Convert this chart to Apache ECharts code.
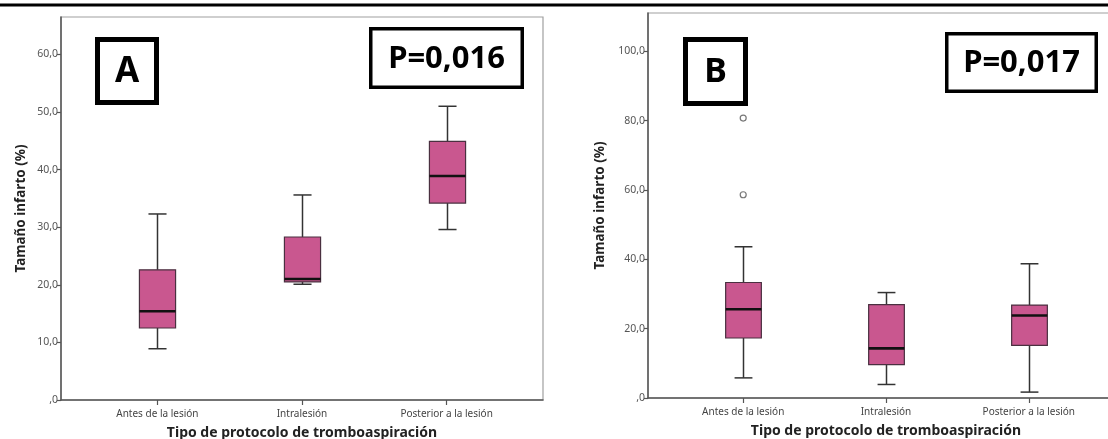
<!DOCTYPE html>
<html>
<head>
<meta charset="utf-8">
<script src="https://cdn.jsdelivr.net/npm/echarts@6/dist/echarts.min.js"></script>
<style>
  html, body { margin: 0; padding: 0; background: #fff; }
  #chart { width: 1108px; height: 439px; }
</style>
</head>
<body>
<div id="chart"></div>
<script>
// Categories of thrombo-aspiration protocol
const categories = ['Antes de la lesión', 'Intralesión', 'Posterior a la lesión'];

// Panel A: [min, Q1, median, Q3, max] of infarct size (%)
const boxesA = [
  [8.9, 12.5, 15.4, 22.6, 32.3],
  [20.1, 20.5, 21.0, 28.3, 35.6],
  [29.6, 34.2, 38.9, 44.9, 51.0]
];

// Panel B: [min, Q1, median, Q3, max] of infarct size (%)
const boxesB = [
  [5.8, 17.3, 25.6, 33.3, 43.6],
  [3.9, 9.6, 14.3, 26.9, 30.4],
  [1.7, 15.2, 23.8, 26.8, 38.7]
];

// Panel B outliers: [category index, value]
const outliersB = [
  [0, 80.7],
  [0, 58.6]
];

// Tick values of each value axis
const ticksA = [0, 10, 20, 30, 40, 50, 60];
const ticksB = [0, 20, 40, 60, 80, 100];

const pValueA = 'P=0,016';
const pValueB = 'P=0,017';
const yTitle = 'Tamaño infarto (%)';
const xTitle = 'Tipo de protocolo de tromboaspiración';

const FONT = 'Noto Sans';
const BOX_FILL = '#c9578f';

function fmtY(v) {
  return v === 0 ? ',0' : v.toFixed(1).replace('.', ',');
}

// Builds rows [x, min, q1, median, q3, max] for the custom box series
function rows(boxes) {
  return boxes.map((b, i) => [i].concat(b));
}

function renderBox(params, api) {
  const x = api.value(0);
  const c = (v) => api.coord([x, v]);
  const pMin = c(api.value(1));
  const pQ1 = c(api.value(2));
  const pMed = c(api.value(3));
  const pQ3 = c(api.value(4));
  const pMax = c(api.value(5));
  const band = api.size([1, 0])[0];
  const bw = band * 0.25;
  const cw = bw / 2;
  const cx = Math.round(pMed[0]) + 0.5;
  const whisker = { stroke: '#333', lineWidth: 1.5 };
  return {
    type: 'group',
    children: [
      { type: 'line', shape: { x1: cx, y1: pMin[1], x2: cx, y2: pQ1[1] }, style: whisker },
      { type: 'line', shape: { x1: cx, y1: pQ3[1], x2: cx, y2: pMax[1] }, style: whisker },
      { type: 'line', shape: { x1: cx - cw / 2, y1: pMin[1], x2: cx + cw / 2, y2: pMin[1] }, style: whisker },
      { type: 'line', shape: { x1: cx - cw / 2, y1: pMax[1], x2: cx + cw / 2, y2: pMax[1] }, style: whisker },
      {
        type: 'rect',
        shape: { x: cx - bw / 2, y: pQ3[1], width: bw, height: pQ1[1] - pQ3[1] },
        style: { fill: BOX_FILL, stroke: '#4a3040', lineWidth: 1.2 }
      },
      {
        type: 'line',
        shape: { x1: cx - bw / 2, y1: pMed[1], x2: cx + bw / 2, y2: pMed[1] },
        style: { stroke: '#111', lineWidth: 2.6 }
      }
    ]
  };
}

function xAxisDef(gridIndex) {
  return {
    type: 'value',
    gridIndex: gridIndex,
    min: -2 / 3,
    max: 8 / 3,
    splitLine: { show: false },
    axisLine: { show: true, onZero: false, lineStyle: { color: '#555', width: 1.5 } },
    axisTick: { show: true, customValues: [0, 1, 2], length: 5, lineStyle: { color: '#555', width: 1.2 } },
    axisLabel: {
      customValues: [0, 1, 2],
      formatter: (v) => categories[Math.round(v)],
      fontFamily: FONT, fontSize: 10, color: '#444', margin: 9
    },
    name: xTitle,
    nameLocation: 'middle',
    nameGap: 26,
    nameTextStyle: { fontFamily: FONT, fontSize: 14, fontWeight: 'bold', color: '#222' }
  };
}

function yAxisDef(gridIndex, max, ticks, gap) {
  return {
    type: 'value',
    gridIndex: gridIndex,
    min: 0,
    max: max,
    splitLine: { show: false },
    axisLine: { show: true, onZero: false, lineStyle: { color: '#555', width: 1.5 } },
    axisTick: { show: true, customValues: ticks, length: 4, lineStyle: { color: '#555', width: 1.2 } },
    axisLabel: {
      customValues: ticks,
      formatter: fmtY,
      fontFamily: FONT, fontSize: 10.5, color: '#555', margin: 3
    },
    name: yTitle,
    nameLocation: 'middle',
    nameGap: gap,
    nameTextStyle: { fontFamily: FONT, fontSize: 13.5, fontWeight: 'bold', color: '#222' }
  };
}

// Framed label box (panel letter or p-value)
function labelBox(x, y, w, h, border, text, size) {
  return {
    type: 'group',
    children: [
      {
        type: 'rect',
        shape: { x: x + border / 2, y: y + border / 2, width: w - border, height: h - border },
        style: { fill: '#fff', stroke: '#000', lineWidth: border }
      },
      {
        type: 'text',
        x: x + w / 2,
        y: y + h / 2 + 1,
        style: {
          text: text, fill: '#000', fontFamily: FONT, fontWeight: 'bold',
          fontSize: size, align: 'center', verticalAlign: 'middle'
        }
      }
    ]
  };
}

const chart = echarts.init(document.getElementById('chart'), null, { renderer: 'canvas' });

chart.setOption({
  backgroundColor: '#fff',
  animation: false,
  grid: [
    {
      left: 61, right: 565, top: 17, bottom: 39, outerBoundsMode: 'none', containLabel: false,
      show: true, borderColor: '#a0a0a0', borderWidth: 1.2
    },
    {
      left: 648, right: -16, top: 13, bottom: 41, outerBoundsMode: 'none', containLabel: false,
      show: true, borderColor: '#a0a0a0', borderWidth: 1.2
    }
  ],
  xAxis: [xAxisDef(0), xAxisDef(1)],
  yAxis: [yAxisDef(0, 66.5, ticksA, 33), yAxisDef(1, 111, ticksB, 41)],
  series: [
    {
      type: 'custom', xAxisIndex: 0, yAxisIndex: 0,
      renderItem: renderBox, encode: { x: 0, y: [1, 2, 3, 4, 5] },
      data: rows(boxesA), z: 3
    },
    {
      type: 'custom', xAxisIndex: 1, yAxisIndex: 1,
      renderItem: renderBox, encode: { x: 0, y: [1, 2, 3, 4, 5] },
      data: rows(boxesB), z: 3
    },
    {
      type: 'scatter', xAxisIndex: 1, yAxisIndex: 1,
      symbol: 'circle', symbolSize: 6,
      itemStyle: { color: '#fff', borderColor: '#555', borderWidth: 1.2 },
      data: outliersB, z: 4
    }
  ],
  graphic: [
    { type: 'line', shape: { x1: 0, y1: 5, x2: 1108, y2: 5 }, style: { stroke: '#000', lineWidth: 3 } },
    labelBox(95, 37, 64, 68, 5, 'A', 35),
    labelBox(369, 27, 155, 62, 3.5, pValueA, 31),
    labelBox(683, 37, 65, 69, 5, 'B', 34),
    labelBox(945, 32, 153, 61, 3.5, pValueB, 31)
  ]
});
</script>
</body>
</html>
